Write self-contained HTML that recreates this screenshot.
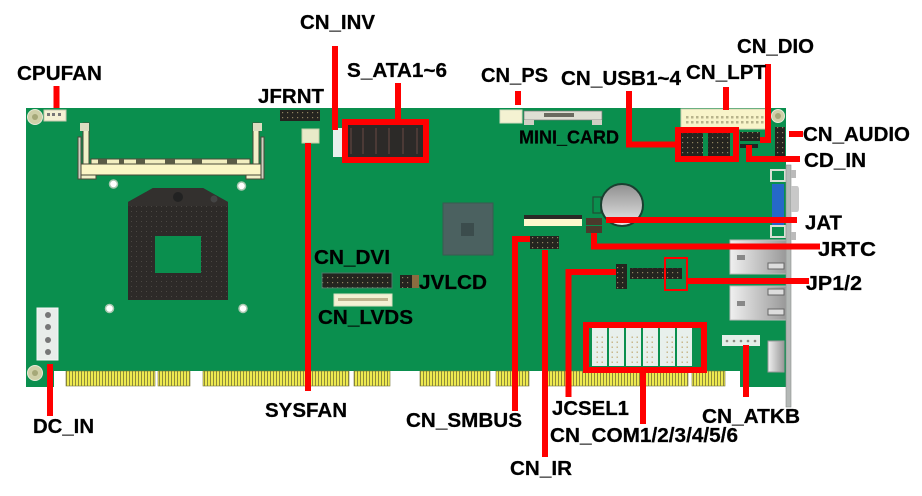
<!DOCTYPE html>
<html><head><meta charset="utf-8"><style>
html,body{margin:0;padding:0;background:#fff;width:922px;height:496px;overflow:hidden}
svg{display:block}
text{font-family:"Liberation Sans",sans-serif;font-weight:bold;font-size:20.5px;fill:#000;stroke:#000;stroke-width:.25}
</style></head><body>
<svg width="922" height="496" viewBox="0 0 922 496" xmlns="http://www.w3.org/2000/svg">
<defs>
<linearGradient id="g1" x1="0" y1="0" x2="0" y2="1"><stop offset="0" stop-color="#8f8f8f"/><stop offset="1" stop-color="#e8e8e8"/></linearGradient>
<linearGradient id="g2" x1="0" y1="0" x2="1" y2="0"><stop offset="0" stop-color="#f0f0f0"/><stop offset="1" stop-color="#999"/></linearGradient>
<pattern id="fing" width="3" height="10" patternUnits="userSpaceOnUse"><rect width="3" height="10" fill="#eeea50"/><rect width="1" height="10" fill="#8d8a3a"/></pattern>
<pattern id="sock" width="5" height="5" patternUnits="userSpaceOnUse"><rect width="5" height="5" fill="#2d2a28"/><rect x="1" y="1" width="1" height="1" fill="#4a4742"/></pattern>
<pattern id="hdr" width="5" height="5" patternUnits="userSpaceOnUse"><rect width="5" height="5" fill="#24241f"/><rect x="2" y="2" width="1.2" height="1.2" fill="#8f8360"/></pattern>
<pattern id="dots" width="5" height="5" patternUnits="userSpaceOnUse"><rect x="1.500" y="1.500" width="1.500" height="1.500" fill="#c9b98e"/></pattern>
<pattern id="lpt" width="5" height="5" patternUnits="userSpaceOnUse"><rect x="1" y="1" width="2.500" height="2.500" fill="#b8b48c"/></pattern>
</defs>

<!-- board -->
<path d="M26 108H786V387H740V371H54V387H26Z" fill="#0a8f4e"/>
<!-- gold fingers -->
<g fill="url(#fing)" stroke="#77763a" stroke-width=".6">
<rect x="66" y="371" width="89" height="15"/><rect x="158" y="371" width="32" height="15"/>
<rect x="203" y="371" width="146" height="15"/><rect x="354" y="371" width="36" height="15"/>
<rect x="420" y="371" width="70" height="15"/><rect x="496" y="371" width="33" height="15"/>
<rect x="547" y="371" width="141" height="15"/><rect x="692" y="371" width="33" height="15"/>
</g>
<!-- mount holes -->
<g fill="#cfd0a8" stroke="#e8e8d8"><circle cx="35" cy="117" r="7.500"/><circle cx="35" cy="373" r="7.500"/><circle cx="778" cy="116" r="6.500"/></g>
<g fill="#a5a878"><circle cx="35" cy="117" r="3"/><circle cx="35" cy="373" r="3"/><circle cx="778" cy="116" r="3"/></g>
<!-- CPU fan -->
<rect x="44" y="110" width="22" height="11" fill="#f4f1d4" stroke="#c8c8b0"/>
<g fill="#777"><rect x="47" y="113" width="3" height="3"/><rect x="52" y="113" width="3" height="3"/><rect x="58" y="113" width="3" height="3"/></g>
<!-- SODIMM -->
<g stroke="#4a4a38" stroke-width="1">
<rect x="91" y="159" width="159" height="5" fill="#f2eec0"/>
<rect x="81" y="164" width="180" height="11" fill="#fbf6c6"/>
<rect x="83" y="123" width="6" height="41" fill="#f1f0c8"/>
<rect x="253" y="123" width="6" height="41" fill="#f1f0c8"/>
<rect x="78" y="137" width="3" height="42" fill="#cfcfc0"/>
<rect x="261" y="137" width="3" height="42" fill="#cfcfc0"/>
<rect x="81" y="175" width="15" height="4" fill="#f1f0c8"/>
<rect x="246" y="175" width="15" height="4" fill="#f1f0c8"/>
</g>
<rect x="80" y="123" width="9" height="8" fill="#dcdcc0"/><rect x="253" y="123" width="9" height="8" fill="#dcdcc0"/>
<g fill="#5a5a45"><rect x="98" y="159" width="9" height="5"/><rect x="119" y="159" width="5" height="5"/><rect x="136" y="159" width="9" height="5"/><rect x="165" y="159" width="10" height="5"/><rect x="192" y="159" width="10" height="5"/><rect x="227" y="159" width="10" height="5"/></g>
<!-- holes -->
<g fill="#fff" stroke="#a8c8b0" stroke-width="1.5"><circle cx="113.500" cy="184" r="4"/><circle cx="241.500" cy="186" r="4"/><circle cx="109.500" cy="308.500" r="4"/><circle cx="243" cy="308.500" r="4"/></g>
<!-- CPU socket -->
<path d="M128 202L153 188H203L228 202V300H128Z" fill="url(#sock)"/>
<path d="M128 202L153 188H203L228 202V206H128Z" fill="#33302e"/>
<rect x="155" y="236" width="46" height="37" fill="#0a8f4e"/>
<circle cx="178" cy="197" r="5" fill="#222"/><circle cx="214" cy="199" r="3.500" fill="#444"/>
<!-- DC in -->
<rect x="37" y="308" width="21" height="52" fill="#e9edea" stroke="#f6f6f6" stroke-width="1"/>
<g fill="#777"><circle cx="48" cy="315" r="3"/><circle cx="48" cy="327" r="3"/><circle cx="48" cy="340" r="3"/><circle cx="48" cy="352" r="3"/></g>
<!-- JFRNT -->
<rect x="280" y="110" width="40" height="11" fill="url(#hdr)"/>
<!-- SYSFAN connector -->
<rect x="302" y="129" width="17" height="14" fill="#e8eac8" stroke="#c4cfa8"/>
<!-- CN_INV connector -->
<rect x="333" y="128" width="9" height="29" fill="#e8f0ec"/>
<!-- SATA -->
<rect x="347" y="125" width="76" height="33" fill="#2c2a28"/>
<g fill="#4b3a36"><rect x="350" y="128" width="2" height="26"/><rect x="362" y="128" width="2" height="26"/><rect x="375" y="128" width="2" height="26"/><rect x="388" y="128" width="2" height="26"/><rect x="402" y="128" width="2" height="26"/><rect x="416" y="128" width="2" height="26"/></g>
<!-- PS -->
<rect x="500" y="110" width="22" height="13" fill="#f4f2d2" stroke="#d4dcc0"/>
<!-- mini card -->
<rect x="524" y="111" width="78" height="9" fill="#dedfd4" stroke="#777" stroke-width=".7"/>
<rect x="524" y="120" width="10" height="5" fill="#cfcfc4"/><rect x="592" y="120" width="10" height="5" fill="#cfcfc4"/>
<rect x="544" y="113" width="30" height="4" fill="#6a6a60"/>
<!-- chipset -->
<rect x="443" y="203" width="50" height="52" fill="#4b6160" stroke="#3a5a50"/>
<rect x="461" y="223" width="13" height="13" fill="#3b4c4c"/>
<!-- mini pci / white -->
<rect x="524" y="215" width="58" height="4" fill="#2a2a26"/>
<rect x="524" y="219" width="58" height="7" fill="#fdf8cc"/>
<!-- IR header -->
<rect x="530" y="236" width="29" height="13" fill="url(#hdr)"/>
<!-- battery -->
<rect x="593" y="197" width="8" height="16" fill="none" stroke="#224a34" stroke-width="1.2"/>
<circle cx="622" cy="205" r="21" fill="url(#g1)" stroke="#1a3f30" stroke-width="2"/>
<!-- JRTC -->
<rect x="586" y="218" width="16" height="7" fill="#4a3a2c"/><rect x="586" y="226" width="16" height="7" fill="#4a3a2c"/>
<!-- DVI/LVDS -->
<rect x="322" y="273" width="70" height="15" fill="url(#hdr)" stroke="#4d7a6a"/>
<rect x="334" y="294" width="58" height="12" fill="#f4f1d4" stroke="#d8e0c0"/>
<rect x="338" y="298" width="50" height="3" fill="#a89a70" opacity=".7"/>
<rect x="400" y="275" width="12" height="13" fill="url(#hdr)"/>
<rect x="412" y="275" width="7" height="13" fill="#8a6c40"/>
<!-- USB -->
<rect x="681" y="133" width="22" height="24" fill="url(#hdr)"/>
<rect x="708" y="133" width="22" height="24" fill="url(#hdr)"/>
<rect x="740" y="132" width="20" height="9" fill="url(#hdr)"/>
<rect x="740" y="144" width="18" height="4" fill="#222"/>
<rect x="775" y="127" width="10" height="29" fill="url(#hdr)"/>
<!-- LPT -->
<rect x="681" y="109" width="85" height="20" fill="#f8f4ca" stroke="#cfd0b4"/>
<rect x="684" y="115" width="80" height="11" fill="url(#lpt)"/>
<!-- VGA -->
<path d="M771 170H785V181H771Z" fill="#0a8f4e" stroke="#d8e0d4" stroke-width="2"/>
<rect x="772" y="184" width="12" height="41" fill="#2568c8"/>
<path d="M771 226H785V237H771Z" fill="#0a8f4e" stroke="#d8e0d4" stroke-width="2"/>
<!-- LAN -->
<rect x="730" y="240" width="56" height="34" fill="url(#g2)" stroke="#bbb"/>
<rect x="730" y="286" width="56" height="34" fill="url(#g2)" stroke="#bbb"/>
<rect x="737" y="255" width="8" height="5" fill="#888"/><rect x="737" y="301" width="8" height="5" fill="#888"/>
<rect x="768" y="263" width="16" height="6" fill="#ddd" stroke="#666"/><rect x="768" y="289" width="16" height="6" fill="#ddd" stroke="#666"/><rect x="768" y="309" width="16" height="6" fill="#ddd" stroke="#666"/>
<!-- JCSEL / JP -->
<rect x="616" y="264" width="11" height="25" fill="url(#hdr)"/>
<rect x="630" y="268" width="52" height="11" fill="url(#hdr)"/>
<!-- COMs -->
<g fill="#e8f0ec">
<rect x="592" y="328" width="15" height="38"/><rect x="609" y="328" width="15" height="38"/><rect x="626" y="328" width="15" height="38"/><rect x="643" y="328" width="15" height="38"/><rect x="660" y="328" width="15" height="38"/><rect x="677" y="328" width="15" height="38"/>
</g>
<g fill="url(#dots)">
<rect x="595" y="335" width="10" height="28"/><rect x="610" y="335" width="10" height="28"/><rect x="630" y="335" width="10" height="28"/><rect x="645" y="335" width="10" height="28"/><rect x="665" y="335" width="10" height="28"/><rect x="680" y="335" width="10" height="28"/>
</g>
<!-- ATKB -->
<rect x="722" y="335" width="38" height="11" fill="#e4eee8"/>
<g fill="#8a8a80"><circle cx="727" cy="341" r="1.3"/><circle cx="734" cy="341" r="1.3"/><circle cx="741" cy="341" r="1.3"/><circle cx="748" cy="341" r="1.3"/><circle cx="755" cy="341" r="1.3"/></g>
<!-- audio jack -->
<rect x="768" y="341" width="16" height="31" fill="url(#g2)" stroke="#999"/>
<!-- bracket -->
<rect x="786" y="165" width="5" height="242" fill="#b4b8b6" stroke="#8a8e8c" stroke-width=".6"/>
<path d="M791 186H797Q799 186 799 190V208Q799 212 797 212H791Z" fill="#c8c8c8"/>
<rect x="791" y="170" width="5" height="8" fill="#bbb"/><rect x="791" y="232" width="5" height="8" fill="#bbb"/>

<!-- red leaders -->
<g fill="none" stroke="#f00" stroke-width="6">
<path d="M56.500 86V108"/>
<path d="M335 46V130"/>
<path d="M398 83V120"/>
<rect x="345" y="122" width="81" height="38"/>
<path d="M518 91V105"/>
<path d="M629 91V144.500H677"/>
<rect x="678" y="130" width="58" height="29"/>
<path d="M726 87V110"/>
<path d="M768 64V140H760"/>
<path d="M789 134H803"/>
<path d="M749 145V159H800"/>
<path d="M606 220H797"/>
<path d="M594 233V246.500H820"/>
<rect x="665" y="258" width="22" height="32" stroke-width="2"/>
<path d="M687 281H809"/>
<path d="M616 272H568.500V397"/>
<rect x="586" y="325" width="118" height="45"/>
<path d="M643 370V424"/>
<path d="M746 345V397"/>
<path d="M545 250V457"/>
<path d="M530 239H515V411"/>
<path d="M308 143V391"/>
<path d="M50 364V416"/>
</g>

<!-- labels -->
<g>
<text x="300" y="29" textLength="75" lengthAdjust="spacingAndGlyphs">CN_INV</text>
<text x="17" y="80" textLength="85" lengthAdjust="spacingAndGlyphs">CPUFAN</text>
<text x="347" y="77" textLength="100" lengthAdjust="spacingAndGlyphs">S_ATA1~6</text>
<text x="737" y="53" textLength="77" lengthAdjust="spacingAndGlyphs">CN_DIO</text>
<text x="481" y="82" textLength="67" lengthAdjust="spacingAndGlyphs">CN_PS</text>
<text x="561" y="85" textLength="120" lengthAdjust="spacingAndGlyphs">CN_USB1~4</text>
<text x="686" y="79" textLength="80" lengthAdjust="spacingAndGlyphs">CN_LPT</text>
<text x="258" y="103" textLength="66" lengthAdjust="spacingAndGlyphs">JFRNT</text>
<text x="519" y="143.500" textLength="100" lengthAdjust="spacingAndGlyphs" style="font-size:18.500px">MINI_CARD</text>
<text x="803" y="141" textLength="107" lengthAdjust="spacingAndGlyphs">CN_AUDIO</text>
<text x="804" y="167" textLength="62" lengthAdjust="spacingAndGlyphs">CD_IN</text>
<text x="805" y="229.500" textLength="37" lengthAdjust="spacingAndGlyphs">JAT</text>
<text x="818" y="256" textLength="58" lengthAdjust="spacingAndGlyphs">JRTC</text>
<text x="806" y="290" textLength="56" lengthAdjust="spacingAndGlyphs">JP1/2</text>
<text x="314" y="264" textLength="76" lengthAdjust="spacingAndGlyphs">CN_DVI</text>
<text x="419" y="289" textLength="68" lengthAdjust="spacingAndGlyphs">JVLCD</text>
<text x="318" y="324" textLength="95" lengthAdjust="spacingAndGlyphs">CN_LVDS</text>
<text x="265" y="417" textLength="82" lengthAdjust="spacingAndGlyphs">SYSFAN</text>
<text x="33" y="433" textLength="61" lengthAdjust="spacingAndGlyphs">DC_IN</text>
<text x="406" y="427" textLength="116" lengthAdjust="spacingAndGlyphs">CN_SMBUS</text>
<text x="552" y="415" textLength="77" lengthAdjust="spacingAndGlyphs">JCSEL1</text>
<text x="702" y="423" textLength="98" lengthAdjust="spacingAndGlyphs">CN_ATKB</text>
<text x="550" y="442" textLength="188" lengthAdjust="spacingAndGlyphs">CN_COM1/2/3/4/5/6</text>
<text x="510" y="475" textLength="62" lengthAdjust="spacingAndGlyphs">CN_IR</text>
</g>
</svg>
</body></html>
